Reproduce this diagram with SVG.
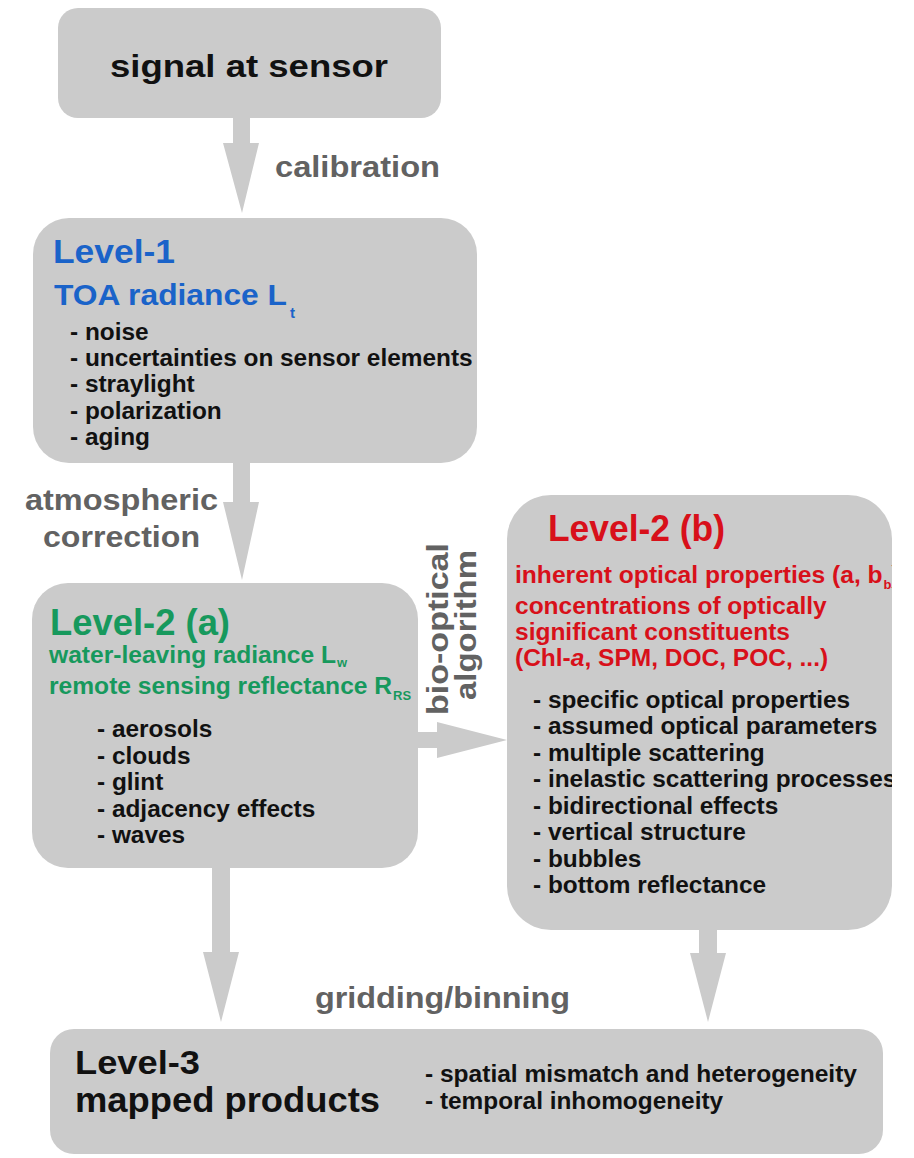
<svg xmlns="http://www.w3.org/2000/svg" width="914" height="1158" viewBox="0 0 914 1158">
<style>
text{font-family:"Liberation Sans",Arial,sans-serif;font-weight:bold;}
.box{fill:#cbcbcb;}
.arrow{fill:#cbcbcb;}
.lbl{fill:#626262;font-size:30px;}
.item{fill:#111;font-size:24.4px;}
.blue{fill:#1a63c9;}
.green{fill:#17995d;}
.red{fill:#d8101a;}
.blk{fill:#111;}
</style>
<defs>
<clipPath id="clipR"><rect x="0" y="0" width="892" height="1158"/></clipPath>
</defs>
<rect width="914" height="1158" fill="#fff"/>

<g id="connectors">
<polygon class="arrow" points="233,118 250,118 250,143 259,143 242,213 223,143 233,143"/>
<polygon class="arrow" points="233,463 250,463 250,502 259,502 242,580 223,502 233,502"/>
<polygon class="arrow" points="418,732 437,732 437,722 507,740 437,758 437,748 418,748"/>
<polygon class="arrow" points="212,868 230,868 230,952 239,952 221,1022 203,952 212,952"/>
<polygon class="arrow" points="699,930 717,930 717,953 726,953 708,1022 690,953 699,953"/>
<text class="lbl" x="275" y="177" textLength="165" lengthAdjust="spacingAndGlyphs">calibration</text>
<text class="lbl" x="25" y="510" textLength="193" lengthAdjust="spacingAndGlyphs">atmospheric</text>
<text class="lbl" x="43" y="547" textLength="157" lengthAdjust="spacingAndGlyphs">correction</text>
<text class="lbl" transform="translate(448,715) rotate(-90)" textLength="172" lengthAdjust="spacingAndGlyphs">bio-optical</text>
<text class="lbl" transform="translate(476,700) rotate(-90)" textLength="150" lengthAdjust="spacingAndGlyphs">algorithm</text>
<text class="lbl" x="315" y="1008" textLength="255" lengthAdjust="spacingAndGlyphs">gridding/binning</text>
</g>

<g id="signal">
<rect class="box" x="58" y="8" width="383" height="110" rx="20"/>
<text class="blk" x="110" y="77" font-size="32" textLength="278" lengthAdjust="spacingAndGlyphs">signal at sensor</text>
</g>

<g id="level1">
<rect class="box" x="33" y="218" width="444" height="245" rx="36"/>
<text class="blue" x="53" y="263" font-size="34" textLength="122" lengthAdjust="spacingAndGlyphs">Level-1</text>
<text class="blue" x="54" y="305" font-size="29" textLength="233" lengthAdjust="spacingAndGlyphs">TOA radiance L</text>
<text class="blue" x="290" y="318" font-size="15">t</text>
<text class="item" x="70" y="340">- noise</text>
<text class="item" x="70" y="366">- uncertainties on sensor elements</text>
<text class="item" x="70" y="392">- straylight</text>
<text class="item" x="70" y="419">- polarization</text>
<text class="item" x="70" y="445">- aging</text>
</g>

<g id="level2a">
<rect class="box" x="32" y="583" width="386" height="285" rx="36"/>
<text class="green" x="50" y="635" font-size="36" textLength="180" lengthAdjust="spacingAndGlyphs">Level-2 (a)</text>
<text class="green" x="49" y="663" font-size="24.6">water-leaving radiance L<tspan dx="1" dy="4" font-size="13">w</tspan></text>
<text class="green" x="49" y="694" font-size="24.6">remote sensing reflectance R<tspan dx="1" dy="6" font-size="13">RS</tspan></text>
<text class="item" x="97" y="737">- aerosols</text>
<text class="item" x="97" y="764">- clouds</text>
<text class="item" x="97" y="790">- glint</text>
<text class="item" x="97" y="817">- adjacency effects</text>
<text class="item" x="97" y="843">- waves</text>
</g>

<g id="level2b" clip-path="url(#clipR)">
<rect class="box" x="507" y="495" width="385" height="435" rx="44"/>
<text class="red" x="548" y="541" font-size="36" textLength="177" lengthAdjust="spacingAndGlyphs">Level-2 (b)</text>
<text class="red" x="515" y="583" font-size="24.6">inherent optical properties (a, b<tspan dx="1" dy="6" font-size="13">b</tspan><tspan dy="-6">)</tspan></text>
<text class="red" x="515" y="614" font-size="24.5">concentrations of optically</text>
<text class="red" x="515" y="640" font-size="24.5">significant constituents</text>
<text class="red" x="515" y="666" font-size="24.5">(Chl-<tspan font-style="italic">a</tspan>, SPM, DOC, POC, ...)</text>
<text class="item" x="533" y="708">- specific optical properties</text>
<text class="item" x="533" y="734">- assumed optical parameters</text>
<text class="item" x="533" y="761">- multiple scattering</text>
<text class="item" x="533" y="787">- inelastic scattering processes</text>
<text class="item" x="533" y="814">- bidirectional effects</text>
<text class="item" x="533" y="840">- vertical structure</text>
<text class="item" x="533" y="867">- bubbles</text>
<text class="item" x="533" y="893">- bottom reflectance</text>
</g>

<g id="level3">
<rect class="box" x="50" y="1029" width="833" height="125" rx="24"/>
<text class="blk" x="75" y="1074" font-size="34" textLength="125" lengthAdjust="spacingAndGlyphs">Level-3</text>
<text class="blk" x="75" y="1112" font-size="35" textLength="305" lengthAdjust="spacingAndGlyphs">mapped products</text>
<text class="item" x="425" y="1082" textLength="432" lengthAdjust="spacingAndGlyphs">- spatial mismatch and heterogeneity</text>
<text class="item" x="425" y="1109">- temporal inhomogeneity</text>
</g>
</svg>
